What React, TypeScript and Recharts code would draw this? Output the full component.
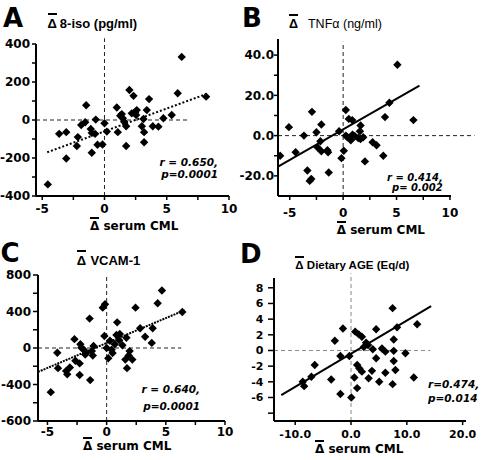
import React from "react";
import { ScatterChart, Scatter, XAxis, YAxis, ReferenceLine } from "recharts";

type Pt = [number, number];

// ---- panel A: Δ 8-iso (pg/ml) vs Δ serum CML ----
const A_POINTS: Pt[] = [
  [-4.55, -339], [-3.64, -73], [-3.07, -64], [-3.07, -203], [-2.14, -90], [-2.22, -137],
  [-1.87, -26], [-1.55, -12], [-1.47, 78], [-1.1, -47], [-1.02, -68], [-0.75, -73],
  [-1.02, -172], [-0.56, -130], [-0.7, 2], [-0.16, -129], [0, -17], [0.19, -61],
  [0.99, 66], [1.07, -64], [1.26, 23], [1.39, 31], [1.47, 9], [1.58, -9], [1.74, -33],
  [1.74, -137], [2.0, 158], [2.33, 127], [2.19, 35], [2.46, 40], [2.54, 26], [2.59, 52],
  [3.0, -33], [3.13, 5], [3.18, -64], [3.18, -117], [3.4, 52], [3.58, 110], [3.88, -33],
  [4.33, -35], [4.73, 9], [5.4, 26], [5.88, 141], [6.2, 332], [8.16, 123],
];
const A_FIT: Pt[] = [[-4.6, -170], [8.2, 137]];
const A_X_TICKS = [-5, -2.5, 0, 2.5, 5, 7.5, 10];
const A_X_LABELS = ["-5", "", "0", "", "5", "", "10"];
const A_Y_TICKS = [400, 300, 200, 100, 0, -100, -200, -300, -400];
const A_Y_LABELS = ["400", "", "200", "", "0", "", "-200", "", "-400"];

// ---- panel B: Δ TNFα (ng/ml) ----
const B_POINTS: Pt[] = [
  [-5.9, -10], [-5.08, 4.2], [-4.45, -8.3], [-3.67, 0], [-3.35, -17.3], [-3.13, -22.5],
  [-2.98, -21.5], [-2.92, 11.8], [-2.5, 1.7], [-2.41, -5.8], [-2.13, -2.8], [-2.04, 5.5],
  [-2.04, -7.8], [-1.47, -7.3], [-1.41, -8.3], [-1.35, -18.3], [-0.38, 2.2], [-0.16, -11.2],
  [0.06, -7.5], [0.25, 12.7], [0.25, 0], [0.41, -0.8], [0.53, 8.3], [0.72, -2.3], [0.85, 7.7],
  [0.88, 0.5], [1.1, -0.3], [1.41, -1.2], [1.57, 2.2], [1.63, 5], [1.63, -1.7], [1.88, -0.8],
  [2.04, -12.8], [2.76, -3.3], [3.13, -4.8], [3.76, -10], [3.92, 9.2], [4.33, 16.3],
  [5.08, 35.2], [6.58, 7.7],
];
const B_FIT: Pt[] = [[-6.1, -15.4], [7.15, 24.8]];
const B_X_TICKS = [-5, -2.5, 0, 2.5, 5, 7.5, 10];
const B_X_LABELS = ["-5", "", "0", "", "5", "", "10"];
const B_Y_TICKS = [40, 30, 20, 10, 0, -10, -20];
const B_Y_LABELS = ["40.0", "", "20.0", "", "0.0", "", "-20.0"];

// ---- panel C: Δ VCAM-1 ----
const C_POINTS: Pt[] = [
  [-4.72, -484], [-4.17, -52], [-4.11, -221], [-3.42, -251], [-3.33, -289], [-3.11, -214],
  [-2.72, 97], [-2.64, -139], [-2.28, -296], [-2.28, -169], [-2.22, 41], [-2.14, 4],
  [-1.94, -19], [-1.81, -71], [-1.72, -56], [-1.44, 322], [-1.39, -352], [-1.25, -34],
  [-1.17, -82], [-1.11, 22], [-0.33, 442], [-0.14, 480], [-0.19, 131], [0, 0], [0.14, -112],
  [0.28, 79], [0.42, -19], [0.5, -56], [0.69, 41], [0.83, 142], [0.89, 281], [1.06, 86],
  [1.11, 154], [1.33, 30], [1.58, -127], [1.67, 112], [1.72, -221], [1.86, -82], [1.94, -34],
  [2.17, -127], [2.44, 442], [2.83, 217], [3.25, 124], [3.81, 56], [3.89, 217], [4.31, 491],
  [4.67, 630], [6.39, 394],
];
const C_FIT: Pt[] = [[-5.8, -262], [6.6, 415]];
const C_X_TICKS = [-5, -2.5, 0, 2.5, 5, 7.5, 10];
const C_X_LABELS = ["-5", "", "0", "", "5", "", "10"];
const C_Y_TICKS = [800, 600, 400, 200, 0, -200, -400, -600, -800];
const C_Y_LABELS = ["800", "", "400", "", "0", "", "-400", "", "-600"];

// ---- panel D: Δ Dietary AGE (Eq/d) ----
const D_POINTS: Pt[] = [
  [-8.65, -4.0], [-8.4, -4.55], [-7.1, -3.35], [-6.5, -1.85], [-3.55, -3.7], [-2.9, 1.25],
  [-1.9, -5.55], [-1.9, -0.7], [-1.45, 2.8], [-0.3, -0.7], [0.05, -6.0], [0.6, -3.45],
  [1.1, -4.8], [0.75, 2.4], [1.4, 2.05], [1.95, 1.75], [2.7, 1.0], [2.3, 0.45], [3.05, 0.7],
  [3.9, 0.15], [5.55, 0.25], [6.15, -0.15], [7.65, -0.05], [9.75, -0.35], [4.5, -1.0],
  [7.65, -1.35], [1.1, -1.85], [1.5, -2.3], [1.95, -2.7], [3.75, -2.6], [6.15, -2.85],
  [7.95, -2.5], [3.15, -3.55], [5.05, -4.0], [7.45, -4.3], [11.25, -3.45], [7.45, 5.4],
  [11.85, 3.35], [8.25, 2.95], [4.5, 2.7], [7.65, 1.4],
];
const D_FIT: Pt[] = [[-12.5, -5.7], [14.35, 5.65]];
const D_X_TICKS = [-10, 0, 10, 20];
const D_X_LABELS = ["-10.0", "0.0", "10.0", "20.0"];
const D_Y_TICKS = [8, 6, 4, 2, 0, -2, -4, -6, -8];
const D_Y_LABELS = ["8", "6", "4", "2", "0", "-2", "-4", "-6", ""];

const toXY = (pts: Pt[]) => pts.map(([x, y]) => ({ x, y }));
const fmt = (ticks: number[], labels: string[]) => (v: number) => labels[ticks.indexOf(v)] ?? "";

const Diamond = (props: any) => {
  const { cx, cy } = props;
  if (cx == null || cy == null) return <g />;
  const r = 4.2;
  return <path d={`M${cx},${cy - r}L${cx + r},${cy}L${cx},${cy + r}L${cx - r},${cy}Z`} fill="#000" />;
};
const NoDot = () => <g />;

const AXIS = { stroke: "#000", strokeWidth: 2 };
const TICKLINE = { stroke: "#000", strokeWidth: 1.5 };

function Panel(p: any) {
  const tick = { fill: "#000", fontSize: p.tickFont, fontWeight: 700, fontFamily: "DejaVu Sans" };
  return (
    <div style={{ position: "absolute", left: p.left, top: p.top }}>
      <ScatterChart width={p.width ?? 241} height={230} margin={p.margin}>
        <XAxis
          type="number" dataKey="x" domain={p.xDomain} allowDataOverflow
          ticks={p.xTicks} interval={0} tickFormatter={fmt(p.xTicks, p.xLabels)}
          height={20} tickSize={4} tickMargin={p.xTickMargin}
          axisLine={AXIS} tickLine={TICKLINE} tick={tick}
        />
        <YAxis
          type="number" dataKey="y" domain={p.yDomain} allowDataOverflow
          ticks={p.yTicks} interval={0} tickFormatter={fmt(p.yTicks, p.yLabels)}
          width={p.yWidth} tickSize={p.yTickSize} tickMargin={p.yTickMargin}
          axisLine={AXIS} tickLine={TICKLINE} tick={tick}
        />
        <ReferenceLine segment={p.hLine} stroke={p.refColor} strokeDasharray="4 3" ifOverflow="visible" />
        <ReferenceLine segment={p.vLine} stroke={p.refColor} strokeDasharray="4 3" ifOverflow="visible" />
        <Scatter
          data={toXY(p.fit)} shape={NoDot} isAnimationActive={false} legendType="none"
          line={{ stroke: "#000", strokeWidth: 2, strokeDasharray: p.fitDash }}
        />
        <Scatter data={toXY(p.points)} shape={Diamond} isAnimationActive={false} />
      </ScatterChart>
    </div>
  );
}

const abs = (left: number, top: number, extra: any = {}) => ({
  position: "absolute" as const, left, top, whiteSpace: "nowrap" as const, color: "#000", ...extra,
});

const Letter = ({ x, y, c }: { x: number; y: number; c: string }) => (
  <div style={abs(x, y, { fontFamily: "DejaVu Sans", fontWeight: 700, fontSize: 26, lineHeight: "26px" })}>{c}</div>
);

const Title = ({ x, y, size, gap, weight, text }: any) => (
  <div style={abs(x, y, { fontFamily: "Liberation Sans, Arial", fontWeight: weight, fontSize: size, lineHeight: `${size}px` })}>
    <span style={{ borderTop: "2px solid #000", paddingTop: 1, fontWeight: 700 }}>Δ</span>
    <span style={{ marginLeft: gap }}>{text}</span>
  </div>
);

const XLabel = ({ x, y }: { x: number; y: number }) => (
  <div style={abs(x, y, { fontFamily: "DejaVu Sans", fontWeight: 700, fontSize: 12, lineHeight: "12px" })}>
    <span style={{ borderTop: "2px solid #000" }}>Δ</span> serum CML
  </div>
);

const Stat = ({ x, y, text, align, size = 10.5 }: any) => (
  <div
    style={abs(align === "right" ? x - 120 : x, y, {
      width: 120, textAlign: align, fontFamily: "DejaVu Sans", fontWeight: 700,
      fontStyle: "italic", fontSize: size, lineHeight: `${size}px`,
    })}
  >
    {text}
  </div>
);

export default function App() {
  return (
    <div style={{ position: "absolute", left: 0, top: 0, width: 482, height: 460, background: "#fff", overflow: "hidden" }}>
      <Panel
        left={0} top={0} margin={{ top: 44, right: 12, bottom: 14, left: 0 }}
        xDomain={[-5.5, 10]} yDomain={[-400, 400]} xTicks={A_X_TICKS} xLabels={A_X_LABELS}
        yTicks={A_Y_TICKS} yLabels={A_Y_LABELS} points={A_POINTS} fit={A_FIT} fitDash="2 2"
        hLine={[{ x: -5.5, y: 0 }, { x: 6.7, y: 0 }]} vLine={[{ x: 0, y: -400 }, { x: 0, y: 430 }]}
        refColor="#222" tickFont={12} xTickMargin={4.6} yWidth={36} yTickSize={4} yTickMargin={2}
      />
      <Panel
        left={234} top={0} width={248} margin={{ top: 39, right: 31, bottom: 14, left: 0 }}
        xDomain={[-6.1, 10.1]} yDomain={[-30, 48]} xTicks={B_X_TICKS} xLabels={B_X_LABELS}
        yTicks={B_Y_TICKS} yLabels={B_Y_LABELS} points={B_POINTS} fit={B_FIT} fitDash="0"
        hLine={[{ x: -6.1, y: 0 }, { x: 12.3, y: 0 }]} vLine={[{ x: 0, y: -30 }, { x: 0, y: 46.6 }]}
        refColor="#222" tickFont={12} xTickMargin={8} yWidth={44} yTickSize={4} yTickMargin={0}
      />
      <Panel
        left={0} top={230} margin={{ top: 45, right: 16, bottom: 19, left: 0 }}
        xDomain={[-5.8, 10]} yDomain={[-800, 800]} xTicks={C_X_TICKS} xLabels={C_X_LABELS}
        yTicks={C_Y_TICKS} yLabels={C_Y_LABELS} points={C_POINTS} fit={C_FIT} fitDash="2 1"
        hLine={[{ x: -5.8, y: 0 }, { x: 6.3, y: 0 }]} vLine={[{ x: 0, y: -800 }, { x: 0, y: 800 }]}
        refColor="#222" tickFont={12} xTickMargin={2} yWidth={38} yTickSize={5} yTickMargin={2}
      />
      <Panel
        left={241} top={230} margin={{ top: 48, right: 16, bottom: 19, left: 0 }}
        xDomain={[-13.8, 20.6]} yDomain={[-9, 9.25]} xTicks={D_X_TICKS} xLabels={D_X_LABELS}
        yTicks={D_Y_TICKS} yLabels={D_Y_LABELS} points={D_POINTS} fit={D_FIT} fitDash="0"
        hLine={[{ x: -13.8, y: 0 }, { x: 14.2, y: 0 }]} vLine={[{ x: 0, y: -9 }, { x: 0, y: 9.85 }]}
        refColor="#888" tickFont={11} xTickMargin={5} yWidth={33} yTickSize={6} yTickMargin={4.5}
      />

      <Letter x={3} y={5} c="A" />
      <Letter x={242} y={5} c="B" />
      <Letter x={0.5} y={240} c="C" />
      <Letter x={240} y={241} c="D" />

      <Title x={47.5} y={16.7} size={13} gap={3} weight={700} text="8-iso (pg/ml)" />
      <Title x={289} y={18} size={12.5} gap={10} weight={400} text="TNFα (ng/ml)" />
      <Title x={76.7} y={254.2} size={13} gap={4.4} weight={700} text="VCAM-1" />
      <Title x={295.3} y={260.2} size={11.5} gap={3.3} weight={700} text="Dietary AGE (Eq/d)" />

      <XLabel x={90} y={220.2} />
      <XLabel x={336.7} y={223.5} />
      <XLabel x={83} y={440} />
      <XLabel x={315} y={443.2} />

      <Stat x={218} y={156.7} align="right" text="r = 0.650," />
      <Stat x={218} y={168.7} align="right" text="p=0.0001" />
      <Stat x={442.7} y={172.5} align="right" size={10} text="r = 0.414," />
      <Stat x={442.7} y={183} align="right" size={10} text="p= 0.002" />
      <Stat x={200} y={384.2} align="right" text="r = 0.640," />
      <Stat x={200} y={400.8} align="right" text="p=0.0001" />
      <Stat x={428} y={379.2} align="left" text="r=0.474," />
      <Stat x={428} y={393} align="left" text="p=0.014" />
    </div>
  );
}
